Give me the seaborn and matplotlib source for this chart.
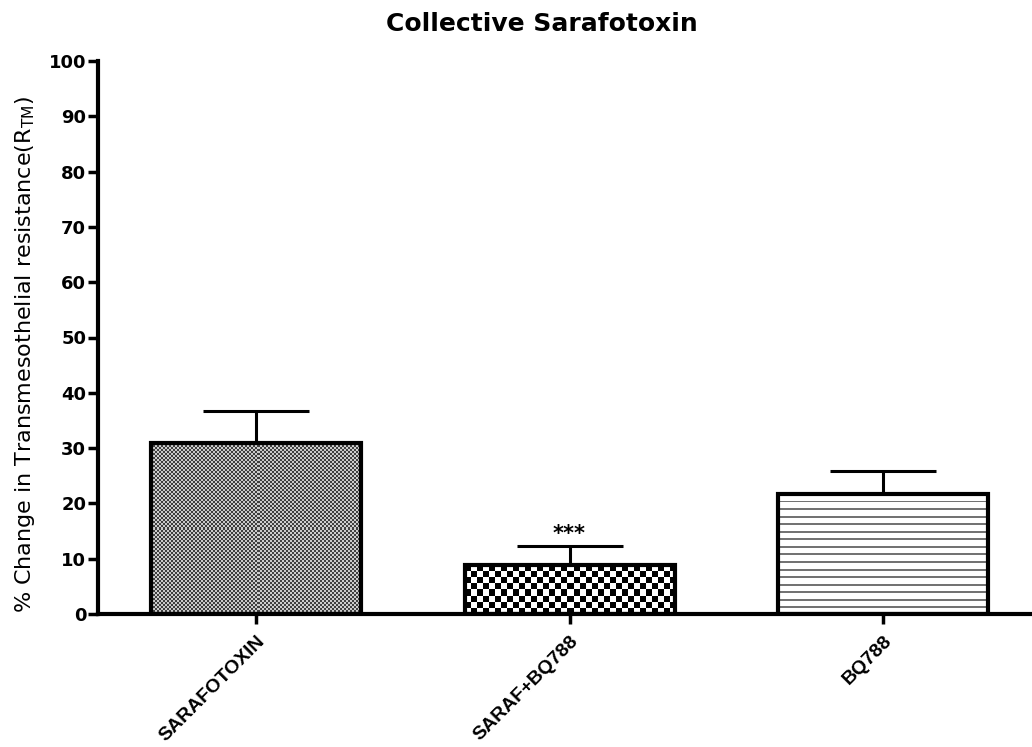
import numpy as np
import pandas as pd
import matplotlib
matplotlib.use("Agg")
import matplotlib.pyplot as plt
import seaborn as sns

categories = ["SARAFOTOXIN", "SARAF+BQ788", "BQ788"]
means = [30.9, 8.8, 21.7]
sem = [5.8, 3.5, 4.2]
annotations = ["", "***", ""]
title = "Collective Sarafotoxin"
ylabel = "% Change in Transmesothelial resistance(R$_{\\mathrm{TM}}$)"

sns.set_theme(style="ticks")
plt.rcParams['font.family'] = ['DejaVu Sans']
plt.rcParams['mathtext.fontset'] = 'dejavusans'
for k in ['text.color', 'axes.labelcolor', 'xtick.color', 'ytick.color', 'axes.edgecolor']:
    plt.rcParams[k] = 'black'

W, H, DPI = 1032, 747, 100
fig = plt.figure(figsize=(W / DPI, H / DPI), dpi=DPI)
ax = fig.add_axes([98 / W, 1 - 614 / H, (1032 - 98) / W, (614 - 61) / H])

df = pd.DataFrame({"cat": categories, "val": means})
sns.barplot(data=df, x="cat", y="val", width=0.67, color="white",
            edgecolor="black", linewidth=3, errorbar=None, ax=ax, zorder=3)

xlim = (-0.504, 2.475)
ylim = (0, 100)
ax.set_xlim(*xlim)
ax.set_ylim(*ylim)

# error bars (upper only)
xs = np.arange(len(categories))
ax.errorbar(xs, means, yerr=[np.zeros(len(sem)), sem], fmt="none",
            ecolor="black", elinewidth=2.2, capsize=53 * 72 / DPI, capthick=2.2, zorder=2)

for x, m, s, a in zip(xs, means, sem, annotations):
    if a:
        ax.text(x, m + s + 0.3, a, ha="center", va="bottom", fontsize=15, fontweight="bold")

# textures
px_per_x = (1032 - 98) / (xlim[1] - xlim[0])
px_per_y = (614 - 61) / (ylim[1] - ylim[0])
bars = [p for p in ax.patches][:len(categories)]
for i, p in enumerate(bars):
    x0, y0, w, h = p.get_x(), p.get_y(), p.get_width(), p.get_height()
    wp, hp = w * px_per_x, h * px_per_y
    if i == 0:
        sq = 2.0
        nc, nr = max(1, int(round(wp / sq))), max(1, int(round(hp / sq)))
        yy, xx = np.mgrid[0:nr, 0:nc]
        arr = np.where((xx + yy) % 2 == 0, 0.25, 0.8)
    elif i == 1:
        sq = 6.0
        nc, nr = max(1, int(round(wp / sq))), max(1, int(round(hp / sq)))
        yy, xx = np.mgrid[0:nr, 0:nc]
        arr = np.where((xx + yy) % 2 == 0, 0.0, 1.0)
    else:
        period = 7.5
        nr = max(1, int(round(hp / (period / 4))))
        yy, xx = np.mgrid[0:nr, 0:4]
        arr = np.where(yy % 4 == 0, 0.45, 1.0)
    im = ax.imshow(arr, cmap="gray", vmin=0, vmax=1, extent=(x0, x0 + w, y0, y0 + h),
                   aspect="auto", interpolation="nearest", zorder=2.5, origin="upper")
    im.set_clip_path(p)
    p.set_facecolor("none")

ax.set_xlim(*xlim)
ax.set_ylim(*ylim)
ax.set_aspect("auto")

sns.despine(ax=ax)
for s in ["left", "bottom"]:
    ax.spines[s].set_linewidth(3)
ax.set_yticks(np.arange(0, 101, 10))
ax.tick_params(axis="both", direction="out", length=7.5, width=2.5, colors="black")
ax.tick_params(axis="y", labelsize=13, pad=1)
for lab in ax.get_yticklabels():
    lab.set_fontweight("bold")
ax.set_xticks(xs)
ax.set_xticklabels(categories, rotation=45, ha="right", rotation_mode="anchor",
                   fontsize=14, fontweight="bold", family="Liberation Sans")
ax.tick_params(axis="x", pad=6)
ax.set_xlabel("")
ax.set_ylabel(ylabel, fontsize=16)
ax.yaxis.set_label_coords(-0.065, 0.47)

fig.text(542 / W, 1 - 24 / H, title, ha="center", va="center", fontsize=18, fontweight="bold")

fig.savefig("out.png", dpi=DPI)
